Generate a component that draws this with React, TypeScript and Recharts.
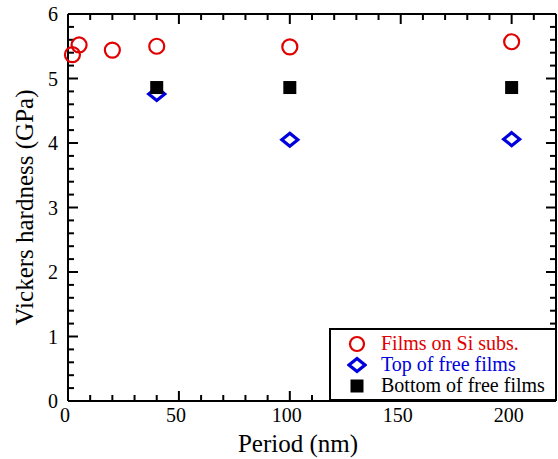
import React from "react";
import { ScatterChart, Scatter, XAxis, YAxis, Legend, ReferenceLine } from "recharts";

const siPeriods = [2, 5, 20, 40, 100, 200];
const siHardness = [5.37, 5.52, 5.44, 5.5, 5.49, 5.57];
const topPeriods = [40, 100, 200];
const topHardness = [4.76, 4.05, 4.06];
const bottomPeriods = [40, 100, 200];
const bottomHardness = [4.86, 4.86, 4.86];

const xTicks = [0, 10, 20, 30, 40, 50, 60, 70, 80, 90, 100, 110, 120, 130, 140, 150, 160, 170, 180, 190, 200, 210, 220];
const xMajor = [0, 50, 100, 150, 200];
const yTicks = [0, 0.2, 0.4, 0.6, 0.8, 1, 1.2, 1.4, 1.6, 1.8, 2, 2.2, 2.4, 2.6, 2.8, 3, 3.2, 3.4, 3.6, 3.8, 4, 4.2, 4.4, 4.6, 4.8, 5, 5.2, 5.4, 5.6, 5.8, 6];
const yMajor = [0, 1, 2, 3, 4, 5, 6];

const seriesNames = ["Films on Si subs.", "Top of free films", "Bottom of free films"];

const X_MAX = 220;
const Y_MAX = 6;
const RED = "#e00000";
const BLUE = "#0000dd";
const FONT = "Liberation Serif, Times New Roman, serif";
const AX = { stroke: "#000", strokeWidth: 2 };
// tick lengths in data units (≈10px major, ≈6px minor)
const X_MAJ_LEN = 0.155;
const X_MIN_LEN = 0.093;
const Y_MAJ_LEN = 4.5;
const Y_MIN_LEN = 2.7;

const siData = siPeriods.map((x, i) => ({ x, y: siHardness[i] }));
const topData = topPeriods.map((x, i) => ({ x, y: topHardness[i] }));
const bottomData = bottomPeriods.map((x, i) => ({ x, y: bottomHardness[i] }));

const isMajorX = (v: number) => xMajor.includes(v);
const isMajorY = (v: number) => yMajor.some((m) => Math.abs(m - v) < 1e-6);

const BottomLabel = (p: any) =>
  isMajorX(p.payload.value) ? (
    <text x={p.x - 3} y={p.y + 21} textAnchor="middle" fontFamily={FONT} fontSize={20} fill="#000">
      {p.payload.value}
    </text>
  ) : (
    <g />
  );

const LeftLabel = (p: any) =>
  isMajorY(p.payload.value) ? (
    <text x={p.x - 10} y={p.y + 7} textAnchor="end" fontFamily={FONT} fontSize={20} fill="#000">
      {Math.round(p.payload.value)}
    </text>
  ) : (
    <g />
  );

const circleShape = (p: any) => (
  <circle cx={p.cx} cy={p.cy} r={7.5} fill="none" stroke={RED} strokeWidth={2.2} />
);
const diamondShape = (p: any) => (
  <path
    d={`M${p.cx},${p.cy - 6.5} L${p.cx + 8},${p.cy} L${p.cx},${p.cy + 6.5} L${p.cx - 8},${p.cy} Z`}
    fill="#fff"
    stroke={BLUE}
    strokeWidth={3.2}
  />
);
const squareShape = (p: any) => (
  <rect x={p.cx - 6.5} y={p.cy - 6.5} width={13} height={13} fill="#000" />
);

const LegendBox = () => {
  const colors = [RED, BLUE, "#000"];
  const symbols = [
    <circle cx={10} cy={10} r={7} fill="none" stroke={RED} strokeWidth={2.2} />,
    <path d="M10,3.5 L18,10 L10,16.5 L2,10 Z" fill="#fff" stroke={BLUE} strokeWidth={3.2} />,
    <rect x={3.5} y={3.5} width={13} height={13} fill="#000" />,
  ];
  return (
    <div
      style={{
        boxSizing: "border-box",
        width: 228,
        height: 73,
        border: "2px solid #000",
        background: "#fff",
        paddingTop: 3,
      }}
    >
      {seriesNames.map((name, i) => (
        <div key={name} style={{ position: "relative", height: 21, lineHeight: "21px" }}>
          <svg width={20} height={20} style={{ position: "absolute", left: 16, top: 0.5 }}>
            {symbols[i]}
          </svg>
          <span
            style={{
              position: "absolute",
              left: 50,
              top: 0,
              fontFamily: FONT,
              fontSize: 20,
              color: colors[i],
              whiteSpace: "nowrap",
            }}
          >
            {name}
          </span>
        </div>
      ))}
    </div>
  );
};

const tickSegments: { key: string; seg: { x: number; y: number }[] }[] = [];
xTicks.forEach((v) => {
  const l = isMajorX(v) ? X_MAJ_LEN : X_MIN_LEN;
  tickSegments.push({ key: `b${v}`, seg: [{ x: v, y: 0 }, { x: v, y: l }] });
  tickSegments.push({ key: `t${v}`, seg: [{ x: v, y: Y_MAX }, { x: v, y: Y_MAX - l }] });
});
yTicks.forEach((v) => {
  const l = isMajorY(v) ? Y_MAJ_LEN : Y_MIN_LEN;
  tickSegments.push({ key: `l${v}`, seg: [{ x: 0, y: v }, { x: l, y: v }] });
  tickSegments.push({ key: `r${v}`, seg: [{ x: X_MAX, y: v }, { x: X_MAX - l, y: v }] });
});

export default function App() {
  return (
    <div style={{ position: "absolute", left: 0, top: 0, background: "#fff" }}>
      <ScatterChart width={558} height={459} margin={{ top: 13, right: 1, bottom: 0, left: 0 }}>
        <XAxis
          type="number"
          dataKey="x"
          domain={[0, X_MAX]}
          ticks={xTicks}
          interval={0}
          height={58}
          axisLine={AX}
          tickLine={false}
          tickSize={0}
          tickMargin={0}
          tick={<BottomLabel />}
          label={{
            value: "Period (nm)",
            position: "center",
            dx: -14,
            dy: 13,
            style: { fontFamily: FONT, fontSize: 25, fill: "#000" },
          }}
        />
        <XAxis
          xAxisId="top"
          orientation="top"
          type="number"
          dataKey="x"
          domain={[0, X_MAX]}
          ticks={xMajor}
          height={1}
          axisLine={AX}
          tickLine={false}
          tick={false}
        />
        <YAxis
          type="number"
          dataKey="y"
          domain={[0, Y_MAX]}
          ticks={yTicks}
          interval={0}
          width={68}
          axisLine={AX}
          tickLine={false}
          tickSize={0}
          tickMargin={0}
          tick={<LeftLabel />}
          label={{
            value: "Vickers hardness (GPa)",
            position: "center",
            angle: -90,
            dx: -10,
            dy: 0,
            style: { fontFamily: FONT, fontSize: 25, fill: "#000", textAnchor: "middle" },
          }}
        />
        <YAxis
          yAxisId="right"
          orientation="right"
          type="number"
          dataKey="y"
          domain={[0, Y_MAX]}
          ticks={yMajor}
          width={1}
          axisLine={AX}
          tickLine={false}
          tick={false}
        />
        {tickSegments.map((t) => (
          <ReferenceLine key={t.key} segment={t.seg} stroke="#000" strokeWidth={2} ifOverflow="visible" />
        ))}
        <Scatter name={seriesNames[0]} data={siData} shape={circleShape} isAnimationActive={false} />
        <Scatter name={seriesNames[1]} data={topData} shape={diamondShape} isAnimationActive={false} />
        <Scatter name={seriesNames[2]} data={bottomData} shape={squareShape} isAnimationActive={false} />
        <Legend
          layout="vertical"
          align="center"
          verticalAlign="middle"
          content={<LegendBox />}
          wrapperStyle={{ left: 329, top: 328, width: 228, height: 73 }}
        />
      </ScatterChart>
    </div>
  );
}
